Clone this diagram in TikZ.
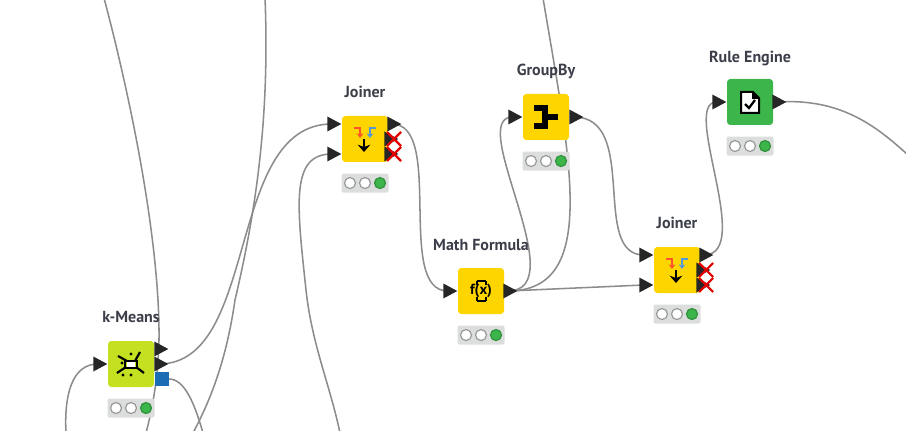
\documentclass[tikz,border=0pt]{standalone}
\usepackage{fontspec}
\setmainfont{PT Sans}
\usetikzlibrary{positioning,shapes.geometric,backgrounds,arrows.meta}
\definecolor{nodeyellow}{HTML}{FFD500}
\definecolor{nodelime}{HTML}{C4E021}
\definecolor{nodegreen}{HTML}{3CB54A}
\definecolor{portblue}{HTML}{1A6DB5}
\definecolor{lightbar}{HTML}{DCDEDE}
\definecolor{wirecol}{HTML}{8C8C8C}
\definecolor{titlecol}{HTML}{3C3F4A}
\tikzset{
	nodebox/.style={rectangle, rounded corners=2.5pt, minimum size=34.5pt, inner sep=0pt},
	nodetitle/.style={font=\bfseries\fontsize{12pt}{12pt}\selectfont, text=titlecol, inner sep=0pt, text depth=0pt},
	lightbox/.style={rectangle, rounded corners=1.5pt, fill=lightbar, minimum width=35.25pt, minimum height=14.25pt, inner sep=0pt},
	lightdot/.style={circle, draw=gray!80, line width=0.9pt, fill=white, minimum size=8.25pt, inner sep=0pt},
	porttri/.style={isosceles triangle, isosceles triangle stretches, shape border rotate=0, fill=black!85, draw=none, minimum width=11.25pt, minimum height=10.5pt, inner sep=0pt, anchor=apex},
	wire/.style={draw=wirecol, line width=1.15pt},
	crossmark/.style={draw=red!90!black, line width=1.6pt},
}
\begin{document}
\begin{tikzpicture}[x=0.75pt, y=-0.75pt]
	\useasboundingbox (0,0) rectangle (906,431);
	% nodes with title and status lights
	\foreach \name/\col/\x/\y/\gap/\title in {kmeans/nodelime/131/364/13.5/k-Means, joinerA/nodeyellow/365/139/13.5/Joiner, mathf/nodeyellow/481/291/12.75/Math Formula, groupby/nodeyellow/546/117/13.5/GroupBy, joinerB/nodeyellow/677/270/13.5/Joiner, rule/nodegreen/750/102/12/Rule Engine}{
		\node[nodebox, fill=\col] (\name) at (\x,\y) {};
		\node[nodetitle, above=\gap pt of \name] (\name-title) {\title};
		\node[lightbox, below=8.25pt of \name] (\name-light) {};
		\node[lightdot] (\name-dot1) at ([xshift=-11.25pt]\name-light.center) {};
		\node[lightdot] (\name-dot2) at (\name-light.center) {};
		\node[lightdot, fill=nodegreen, draw=nodegreen!80!black] (\name-dot3) at ([xshift=11.25pt]\name-light.center) {};
	}
	% ports, tip at the given point
	\foreach \pname/\x/\y in {kmeans-in/108/364, kmeans-outA/169/349, kmeans-outB/169/364, joinerA-inA/342/124, joinerA-inB/342/154, joinerA-out/402/124, joinerA-outB/399/139, joinerA-outC/399/154, mathf-in/458/291, mathf-out/518/291, groupby-in/523/117, groupby-out/584/117, joinerB-inA/654/255, joinerB-inB/654/285, joinerB-out/714/255, joinerB-outB/711/270, joinerB-outC/711/285, rule-in/727/102, rule-out/787/102}{
		\node[porttri] (\pname) at (\x,\y) {};
	}
	\node[rectangle, fill=portblue, minimum size=10pt, inner sep=0pt] (kmeans-blue) at (162,379) {};
	% inactive ports
	\foreach \x/\y in {394/139, 394/154, 706/270, 706/285}{
		\draw[crossmark] (\x-7,\y-7) -- (\x+7,\y+7);
		\draw[crossmark] (\x-7,\y+7) -- (\x+7,\y-7);
	}
	% free ends
	\coordinate (topA) at (104,-2);
	\coordinate (topB) at (265,-2);
	\coordinate (topC) at (543,-2);
	\coordinate (botA) at (66,433);
	\coordinate (botB) at (146,433);
	\coordinate (botC) at (193,433);
	\coordinate (botD) at (203,433);
	\coordinate (botE) at (340,433);
	\coordinate (rightA) at (908,155);
	% wires
	\begin{scope}[on background layer]
		\fill[white] (0,0) rectangle (906,431);
		\draw[wire] (botA) .. controls (64,395) and (72,364) .. (kmeans-in.center);
		\draw[wire] (topA) .. controls (135,115) and (160,250) .. (159,340) .. controls (158,380) and (152,410) .. (botB);
		\draw[wire] (topB) .. controls (270,120) and (255,215) .. (235,300) .. controls (225,370) and (205,410) .. (botC);
		\draw[wire] (kmeans-blue.east) .. controls (185,379) and (195,405) .. (botD);
		\draw[wire] (kmeans-outB.center) .. controls (260,364) and (225,124) .. (joinerA-inA.center);
		\draw[wire] (joinerA-inB.center) .. controls (290,154) and (297,205) .. (306,290) .. controls (312,345) and (330,385) .. (botE);
		\draw[wire] (joinerA-out.center) .. controls (445,124) and (395,291) .. (mathf-in.center);
		\draw[wire] (mathf-out.center) .. controls (575,291) and (465,117) .. (groupby-in.center);
		\draw[wire] (mathf-out.center) .. controls (600,291) and (570,160) .. (topC);
		\draw[wire] (mathf-out.center) -- (joinerB-inB.center);
		\draw[wire] (groupby-out.center) .. controls (640,117) and (590,255) .. (joinerB-inA.center);
		\draw[wire] (joinerB-out.center) .. controls (755,255) and (680,102) .. (rule-in.center);
		\draw[wire] (rule-out.center) .. controls (840,98) and (875,125) .. (rightA);
	\end{scope}
	% joiner icons
	\foreach \cx/\cy in {365/139, 677/270}{
		\begin{scope}[shift={(\cx,\cy)}]
			\draw[color=red!60!orange!85, line width=1.2pt, -{Stealth[length=3.5pt,width=5pt]}] (-11,-11) -- (-5,-11) -- (-5,-1);
			\draw[color=cyan!60!blue!70, line width=1.2pt, -{Stealth[length=3.5pt,width=5pt]}] (11,-11) -- (5,-11) -- (5,-1);
			\draw[color=black, line width=2pt, -{Stealth[length=5.5pt,width=9.5pt]}] (-1,0) -- (-1,13);
		\end{scope}
	}
	% math formula icon
	\node[inner sep=0pt, font=\bfseries\fontsize{11pt}{11pt}\selectfont] (mathf-icon) at (mathf) {f(x)};
	\draw[line width=1.1pt] (477,281) -- (486,281) (477,281) -- (477,285) (486,281) -- (486,285) (477,301) -- (486,301) (477,301) -- (477,297) (486,301) -- (486,297);
	% groupby icon
	\draw[line width=4pt] (534,108) -- (545,108) -- (545,117) -- (558,117);
	\draw[line width=4pt] (534,126) -- (545,126) -- (545,117);
	% rule engine icon
	\draw[fill=white, line width=1.5pt] (741,92) -- (753,92) -- (759,98) -- (759,113) -- (741,113) -- cycle;
	\fill (752,92) -- (759,99) -- (752,99) -- cycle;
	\draw[line width=1.7pt] (745,104) -- (749,108) -- (755,100);
	% k-means icon
	\begin{scope}[shift={(131,364)}]
		\draw[line width=1.6pt] (-4,-3) -- (-13,-8);
		\draw[line width=1.6pt] (4,-3) -- (9,-12);
		\draw[line width=1.6pt] (-5,3) -- (-14,9);
		\draw[line width=1.6pt] (5,3) -- (13,9);
		\draw[line width=1.6pt] (-6,-3) -- (6,-3) -- (6,4) -- (-6,4) -- cycle;
		\fill[white] (-4,-2) rectangle (4,3);
		\foreach \dx/\dy in {-9/-1, 0/-10, 0/11, -8/11}{
			\fill (\dx,\dy) circle (1.2pt);
		}
	\end{scope}
\end{tikzpicture}
\end{document}
